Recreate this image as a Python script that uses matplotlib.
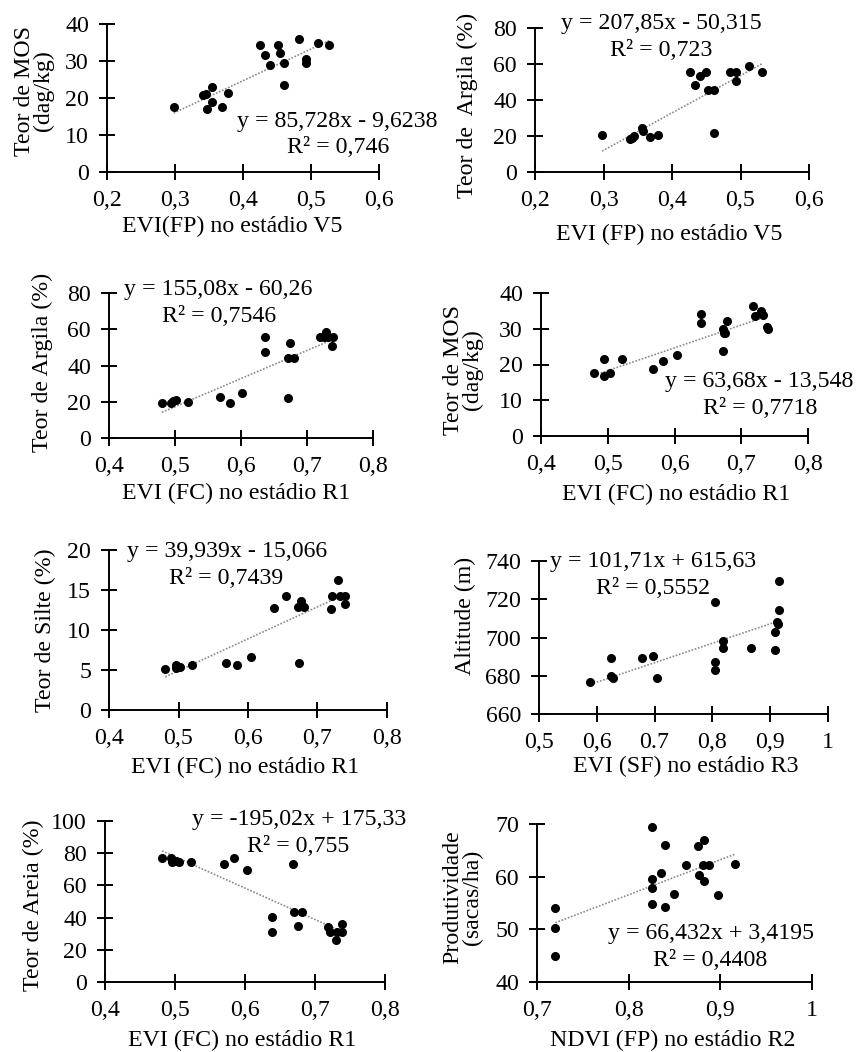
import matplotlib

matplotlib.use('Agg')

import matplotlib.pyplot as plt

W, H = 858, 1052

# panel 1: MOS x EVI (FP) V5
p1_x = [0.298, 0.341, 0.345, 0.354, 0.347, 0.354, 0.369, 0.378, 0.425, 0.433,
        0.440, 0.452, 0.454, 0.460, 0.460, 0.483, 0.492, 0.493, 0.510, 0.527]
p1_y = [17.5, 20.7, 21.0, 22.9, 17.1, 18.8, 17.7, 21.3, 34.4, 31.7,
        28.9, 34.4, 32.2, 29.4, 23.6, 36.0, 30.5, 29.4, 34.8, 34.2]

# panel 2: argila x EVI (FP) V5
p2_x = [0.298, 0.338, 0.341, 0.345, 0.356, 0.358, 0.368, 0.380, 0.427, 0.433,
        0.441, 0.450, 0.453, 0.461, 0.461, 0.484, 0.494, 0.494, 0.512, 0.532]
p2_y = [20.6, 18.3, 19.1, 20.0, 24.4, 22.8, 19.3, 20.6, 55.4, 48.5,
        53.3, 55.4, 45.4, 45.4, 21.9, 55.4, 55.4, 50.7, 58.7, 55.4]

# panel 3: argila x EVI (FC) R1
p3_x = [0.480, 0.494, 0.497, 0.502, 0.519, 0.568, 0.584, 0.602, 0.637, 0.637,
        0.671, 0.674, 0.671, 0.680, 0.719, 0.729, 0.732, 0.739, 0.738, 0.725]
p3_y = [19.2, 19.2, 20.5, 21.2, 20.1, 22.7, 19.2, 24.7, 55.5, 47.6,
        22.3, 52.2, 44.3, 44.3, 55.5, 58.6, 55.5, 55.5, 50.9, 55.5]

# panel 4: MOS x EVI (FC) R1
p4_x = [0.480, 0.4945, 0.4945, 0.5035, 0.522, 0.5675, 0.5825, 0.6035, 0.6395, 0.6395,
        0.6725, 0.6735, 0.676, 0.6725, 0.6785, 0.717, 0.721, 0.7295, 0.7325, 0.7385, 0.7395]
p4_y = [17.5, 16.9, 21.5, 17.5, 21.5, 18.7, 21.0, 22.6, 34.1, 31.6,
        30.0, 28.8, 28.8, 23.8, 32.2, 36.3, 33.7, 35.0, 33.8, 30.4, 30.0]

# panel 5: silte x EVI (FC) R1
p5_x = [0.481, 0.4957, 0.497, 0.502, 0.519, 0.569, 0.584, 0.604, 0.638, 0.655,
        0.673, 0.672, 0.676, 0.681, 0.719, 0.721, 0.730, 0.732, 0.740, 0.739]
p5_y = [5.1, 5.6, 5.2, 5.4, 5.6, 5.9, 5.6, 6.6, 12.8, 14.3,
        5.9, 12.9, 13.6, 12.9, 12.6, 14.3, 16.3, 14.3, 14.3, 13.3]

# panel 6: altitude x EVI (SF) R3
p6_x = [0.589, 0.624, 0.624, 0.628, 0.679, 0.697, 0.705, 0.805, 0.805, 0.805,
        0.819, 0.819, 0.867, 0.909, 0.909, 0.912, 0.914, 0.916, 0.916]
p6_y = [676.8, 689.3, 679.9, 678.9, 689.3, 690.4, 678.9, 718.7, 687.2, 682.9,
        698.3, 694.6, 694.6, 702.8, 693.4, 708.2, 706.8, 714.5, 729.7]

# panel 7: areia x EVI (FC) R1
p7_x = [0.4815, 0.494, 0.495, 0.501, 0.505, 0.5225, 0.570, 0.5845, 0.6035, 0.639,
        0.639, 0.669, 0.670, 0.682, 0.676, 0.719, 0.721, 0.730, 0.731, 0.739, 0.739]
p7_y = [77.1, 77.1, 74.6, 75.4, 74.6, 74.6, 73.3, 77.1, 69.6, 40.1,
        31.0, 73.3, 43.6, 43.6, 34.9, 34.1, 31.2, 26.2, 31.2, 31.2, 36.0]

# panel 8: produtividade x NDVI (FP) R2
p8_x = [0.720, 0.720, 0.720, 0.826, 0.826, 0.826, 0.826, 0.835, 0.8396, 0.8396,
        0.849, 0.862, 0.876, 0.882, 0.877, 0.882, 0.881, 0.888, 0.897, 0.916]
p8_y = [54.1, 50.3, 45.0, 69.4, 59.6, 57.8, 54.9, 60.7, 66.0, 54.2,
        56.8, 62.2, 65.9, 67.0, 60.3, 59.1, 62.2, 62.2, 56.5, 62.5]

slopes = [85.728, 207.85, 155.08, 63.68, 39.939, 101.71, -195.02, 66.432]
intercepts = [-9.6238, -50.315, -60.26, -13.548, -15.066, 615.63, 175.33, 3.4195]
equations = ['y = 85,728x - 9,6238', 'y = 207,85x - 50,315', 'y = 155,08x - 60,26',
             'y = 63,68x - 13,548', 'y = 39,939x - 15,066', 'y = 101,71x + 615,63',
             'y = -195,02x + 175,33', 'y = 66,432x + 3,4195']
r2_texts = ['R² = 0,746', 'R² = 0,723', 'R² = 0,7546', 'R² = 0,7718',
            'R² = 0,7439', 'R² = 0,5552', 'R² = 0,755', 'R² = 0,4408']

ylabels = ['Teor de MOS\n(dag/kg)', 'Teor de  Argila (%)', 'Teor de Argila (%)',
           'Teor de MOS\n(dag/kg)', 'Teor de Silte (%)', 'Altitude (m)',
           'Teor de Areia (%)', 'Produtividade\n(sacas/ha)']
xlabels = ['EVI(FP) no estádio V5', 'EVI (FP) no estádio V5', 'EVI (FC) no estádio R1',
           'EVI (FC) no estádio R1', 'EVI (FC) no estádio R1', 'EVI (SF) no estádio R3',
           'EVI (FC) no estádio R1', 'NDVI (FP) no estádio R2']

xt_02 = [0.2, 0.3, 0.4, 0.5, 0.6]
xl_02 = ['0,2', '0,3', '0,4', '0,5', '0,6']
xt_04 = [0.4, 0.5, 0.6, 0.7, 0.8]
xl_04 = ['0,4', '0,5', '0,6', '0,7', '0,8']
xt_05 = [0.5, 0.6, 0.7, 0.8, 0.9, 1.0]
xl_05 = ['0,5', '0,6', '0.7', '0,8', '0,9', '1']
xt_07 = [0.7, 0.8, 0.9, 1.0]
xl_07 = ['0,7', '0,8', '0,9', '1']

xs = [p1_x, p2_x, p3_x, p4_x, p5_x, p6_x, p7_x, p8_x]
ys = [p1_y, p2_y, p3_y, p4_y, p5_y, p6_y, p7_y, p8_y]
xticks = [(xt_02, xl_02), (xt_02, xl_02), (xt_04, xl_04), (xt_04, xl_04),
          (xt_04, xl_04), (xt_05, xl_05), (xt_04, xl_04), (xt_07, xl_07)]
yticks = [[0, 10, 20, 30, 40], [0, 20, 40, 60, 80], [0, 20, 40, 60, 80],
          [0, 10, 20, 30, 40], [0, 5, 10, 15, 20], [660, 680, 700, 720, 740],
          [0, 20, 40, 60, 80, 100], [40, 50, 60, 70]]

# layout in pixels: axes box (left, top, right, bottom)
boxes = [(107, 24, 379, 172), (535, 28, 809, 172),
         (109, 293, 373, 438), (541, 293, 808, 436),
         (109, 550, 387, 710), (539, 561, 828, 714),
         (105, 821, 385, 982), (537, 824, 812, 982)]
eq_pos = [(237, 121, 'left'), (661, 23, 'center'), (218, 289, 'center'), (759, 382, 'center'),
          (227, 552, 'center'), (653, 562, 'center'), (299, 820, 'center'), (711, 933, 'center')]
r2_pos = [(338, 147), (661, 50), (219, 317), (760, 409),
          (226, 578), (653, 589), (298, 847), (710, 960)]
ylab_pos = [(34, 91), (467, 105), (42, 362), (463, 370),
            (45, 630), (465, 616), (33, 905), (463, 897)]
xlab_pos = [(232, 226), (669, 234), (236, 493), (676, 494),
            (245, 767), (686, 766), (242, 1040), (673, 1040)]

plt.rcParams['font.family'] = ['Liberation Serif', 'DejaVu Serif']
FS = 17.2

fig = plt.figure(figsize=(W / 100, H / 100), dpi=100)


def fx(x):
    return x / W


def fy(y):
    return 1 - y / H


for i in range(8):
    l, t, r, b = boxes[i]
    ax = fig.add_axes([fx(l), fy(b), (r - l) / W, (b - t) / H])
    x0, x1 = xticks[i][0][0], xticks[i][0][-1]
    ax.set_xlim(x0, x1)
    ax.set_ylim(yticks[i][0], yticks[i][-1])
    for s in ['top', 'right']:
        ax.spines[s].set_visible(False)
    for s in ['left', 'bottom']:
        ax.spines[s].set_linewidth(1.4)
    ax.set_xticks(xticks[i][0])
    ax.set_xticklabels(xticks[i][1])
    ax.set_yticks(yticks[i])
    ax.set_yticklabels([str(v) for v in yticks[i]])
    ax.tick_params(direction='inout', length=11, width=1.4, pad=7.5, labelsize=FS)
    ax.patch.set_alpha(0)

    lo, hi = min(xs[i]), max(xs[i])
    ax.plot([lo, hi], [slopes[i] * lo + intercepts[i], slopes[i] * hi + intercepts[i]],
            linestyle=(0, (1, 1)), color='#8a8a8a', lw=1.2, zorder=2)
    ax.plot(xs[i], ys[i], 'o', color='black', ms=5.5, clip_on=False, zorder=3)

    ex, ey, eha = eq_pos[i]
    fig.text(fx(ex), fy(ey), equations[i], ha=eha, va='center', fontsize=FS)
    rx, ry = r2_pos[i]
    fig.text(fx(rx), fy(ry), r2_texts[i], ha='center', va='center', fontsize=FS)
    yx, yy = ylab_pos[i]
    fig.text(fx(yx), fy(yy), ylabels[i], ha='center', va='center', rotation=90,
             fontsize=FS, linespacing=0.92)
    lx, ly = xlab_pos[i]
    fig.text(fx(lx), fy(ly), xlabels[i], ha='center', va='center', fontsize=FS)

fig.savefig('out.png', dpi=100, facecolor='white')
